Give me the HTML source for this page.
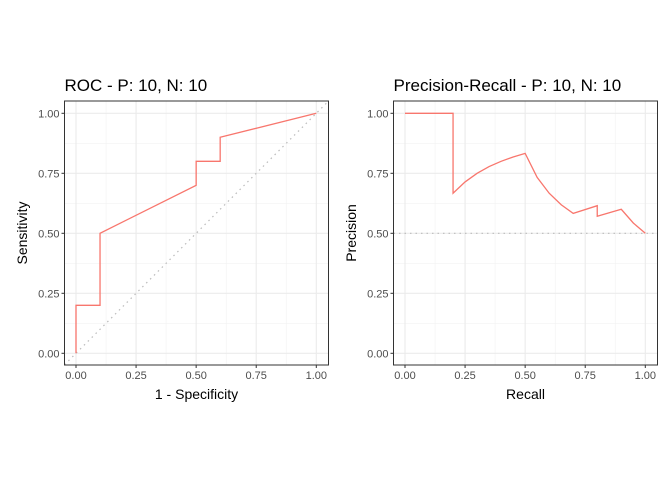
<!DOCTYPE html>
<html><head><meta charset="utf-8"><style>
body{margin:0;background:#fff}
svg{display:block}
text{font-family:"Liberation Sans",sans-serif}
</style></head><body>
<svg id="c" width="672" height="480" xmlns="http://www.w3.org/2000/svg"></svg>
<script>
const rocX=[0,0,0.1,0.1,0.5,0.5,0.6,0.6,1];
const rocY=[0,0.2,0.2,0.5,0.7,0.8,0.8,0.9,1];
const prX=[0,0.2,0.2,0.25,0.3,0.35,0.4,0.45,0.5,0.55,0.6,0.65,0.7,0.8,0.8,0.9,0.95,1];
const prY=[1,1,0.667,0.714,0.75,0.778,0.8,0.818,0.833,0.733,0.667,0.619,0.583,0.615,0.571,0.6,0.543,0.5];
const ticks=[0,0.25,0.5,0.75,1];
const tickLabels=["0.00","0.25","0.50","0.75","1.00"];
const NS="http://www.w3.org/2000/svg";
const svg=document.getElementById('c');
function mk(tag,attrs,parent){const e=document.createElementNS(NS,tag);for(const k in attrs)e.setAttribute(k,attrs[k]);(parent||svg).appendChild(e);return e;}
function panel(ox,title,xlab,ylab,xs,ys,refLine,key){
  const L=ox+64.5,R=ox+328.5,T=101,B=365;
  const sx=v=>ox+76+v*240.3, sy=v=>353.3-v*240;
  const g=mk('g',{});
  
  
  [0.125,0.375,0.625,0.875].forEach(v=>{
    mk('line',{x1:sx(v),x2:sx(v),y1:T,y2:B,stroke:'#f2f2f2','stroke-width':0.6},g);
    mk('line',{x1:L,x2:R,y1:sy(v),y2:sy(v),stroke:'#f2f2f2','stroke-width':0.6},g);
  });
  ticks.forEach((v,i)=>{
    mk('line',{x1:sx(v),x2:sx(v),y1:T,y2:B,stroke:'#ebebeb','stroke-width':1.1},g);
    mk('line',{x1:L,x2:R,y1:sy(v),y2:sy(v),stroke:'#ebebeb','stroke-width':1.1},g);
    mk('line',{x1:sx(v),x2:sx(v),y1:B,y2:B+3,stroke:'#333','stroke-width':1},g);
    mk('line',{x1:L-3,x2:L,y1:sy(v),y2:sy(v),stroke:'#333','stroke-width':1},g);
    const tx=mk('text',{x:sx(v),y:B+14,'font-size':11,fill:'#4d4d4d','text-anchor':'middle'},g);tx.textContent=tickLabels[i];
    
    const ty=mk('text',{x:L-5,y:sy(v)+4,'font-size':11,fill:'#4d4d4d','text-anchor':'end'},g);ty.textContent=tickLabels[i];
    
  });
  if(refLine==='diag'){
    mk('line',{x1:L,y1:sy((L-ox-76)/240.3),x2:R,y2:sy((R-ox-76)/240.3),stroke:'#bbb','stroke-dasharray':'1.5,4','stroke-width':1.2},g);
  } else {
    mk('line',{x1:L,x2:R,y1:sy(0.5),y2:sy(0.5),stroke:'#bbb','stroke-dasharray':'1.5,4','stroke-width':1.2},g);
  }
  const d=xs.map((x,i)=>(i?'L':'M')+sx(x).toFixed(2)+','+sy(ys[i]).toFixed(2)).join(' ');
  const p=mk('path',{d:d,fill:'none',stroke:'#f8766d','stroke-width':1.3},g);
  
  
  mk('rect',{x:L,y:T,width:R-L,height:B-T,fill:'none',stroke:'#333','stroke-width':1},g);
  const t=mk('text',{x:L,y:91,'font-size':17,fill:'#000'},g);t.textContent=title;
  
  const xl=mk('text',{x:(L+R)/2,y:399,'font-size':14,'text-anchor':'middle'},g);xl.textContent=xlab;
  
  const yl=mk('text',{x:0,y:0,'font-size':14,'text-anchor':'middle',transform:`translate(${ox+27},${(T+B)/2}) rotate(-90)`},g);yl.textContent=ylab;
  
}
panel(0,'ROC - P: 10, N: 10','1 - Specificity','Sensitivity',rocX,rocY,'diag','roc');
panel(329,'Precision-Recall - P: 10, N: 10','Recall','Precision',prX,prY,'h','pr');
</script>
</body></html>
